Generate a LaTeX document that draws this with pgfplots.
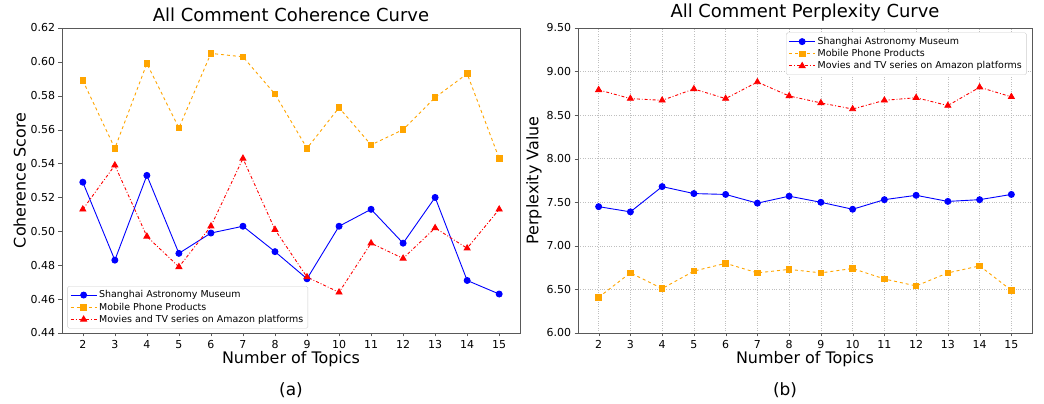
\documentclass[border=0pt]{standalone}
\usepackage{fontspec}
\setmainfont{DejaVu Sans}
\usepackage{pgfplots}
\pgfplotsset{compat=1.18}
\definecolor{mblue}{RGB}{0,0,255}
\definecolor{morange}{RGB}{255,165,0}
\definecolor{mred}{RGB}{255,0,0}
\begin{document}
\begin{tikzpicture}
\path[use as bounding box] (0bp,0bp) rectangle (1044bp,404bp);
\pgfplotsset{
  common/.style={
    scale only axis,
    width=458bp, height=305bp,
    xmin=1.35, xmax=15.65,
    xtick={2,3,...,15},
    tick align=outside,
    xtick pos=left, ytick pos=left,
    major tick length=3.5bp,
    axis line style={black!65},
    tick style={black!65},
    tick label style={font=\fontsize{11}{13}\selectfont},
    label style={font=\fontsize{16}{18}\selectfont},
    title style={font=\fontsize{18}{21}\selectfont, yshift=-3bp},
    /pgf/number format/assume math mode=true,
    yticklabel style={/pgf/number format/fixed, /pgf/number format/fixed zerofill, /pgf/number format/precision=2},
    xlabel={Number of Topics},
    xlabel style={yshift=4bp},
    ylabel style={yshift=-2bp},
    legend cell align=left,
    legend style={font=\fontsize{9.5}{11.5}\selectfont, draw=black!20, rounded corners=1.5bp, inner sep=2.5bp, row sep=-0.5bp},
    legend image code/.code={\draw[mark=none] (0bp,0bp) -- (26bp,0bp); \draw[solid] plot coordinates {(13bp,0bp)};},
    every axis plot/.append style={line width=0.9bp},
  }
}
\begin{axis}[common, at={(62bp,71bp)}, anchor=south west,
  ymin=0.44, ymax=0.62, ytick={0.44,0.46,...,0.62},
  ylabel={Coherence Score},
  title={All Comment Coherence Curve},
  legend style={at={(0.012,0.015)}, anchor=south west}]
\addplot[color=mblue, solid, mark=*, mark size=3bp] coordinates {
(2,0.529)(3,0.483)(4,0.533)(5,0.487)(6,0.499)(7,0.503)(8,0.488)(9,0.472)(10,0.503)(11,0.513)(12,0.493)(13,0.520)(14,0.471)(15,0.463)};
\addlegendentry{Shanghai Astronomy Museum}
\addplot[color=morange, dashed, mark=square*, mark size=2.8bp, mark options={solid}] coordinates {
(2,0.589)(3,0.549)(4,0.599)(5,0.561)(6,0.605)(7,0.603)(8,0.581)(9,0.549)(10,0.573)(11,0.551)(12,0.560)(13,0.579)(14,0.593)(15,0.543)};
\addlegendentry{Mobile Phone Products}
\addplot[color=mred, dash dot, mark=triangle*, mark size=3.4bp, mark options={solid}] coordinates {
(2,0.513)(3,0.539)(4,0.497)(5,0.479)(6,0.503)(7,0.543)(8,0.501)(9,0.473)(10,0.464)(11,0.493)(12,0.484)(13,0.502)(14,0.490)(15,0.513)};
\addlegendentry{Movies and TV series on Amazon platforms}
\end{axis}
\begin{axis}[common, at={(578bp,71bp)}, anchor=south west, width=454bp,
  ymin=6, ymax=9.5, ytick={6,6.5,...,9.5},
  ylabel={Perplexity Value},
  title={All Comment Perplexity Curve},
  grid=major, major grid style={black!25, dotted, line width=0.6bp},
  legend style={at={(0.988,0.985)}, anchor=north east}]
\addplot[color=mblue, solid, mark=*, mark size=3bp] coordinates {
(2,7.45)(3,7.39)(4,7.68)(5,7.60)(6,7.59)(7,7.49)(8,7.57)(9,7.50)(10,7.42)(11,7.53)(12,7.58)(13,7.51)(14,7.53)(15,7.59)};
\addlegendentry{Shanghai Astronomy Museum}
\addplot[color=morange, dashed, mark=square*, mark size=2.8bp, mark options={solid}] coordinates {
(2,6.41)(3,6.69)(4,6.51)(5,6.71)(6,6.80)(7,6.69)(8,6.73)(9,6.69)(10,6.74)(11,6.62)(12,6.54)(13,6.69)(14,6.77)(15,6.49)};
\addlegendentry{Mobile Phone Products}
\addplot[color=mred, dash dot, mark=triangle*, mark size=3.4bp, mark options={solid}] coordinates {
(2,8.79)(3,8.69)(4,8.67)(5,8.80)(6,8.69)(7,8.88)(8,8.72)(9,8.64)(10,8.57)(11,8.67)(12,8.70)(13,8.61)(14,8.82)(15,8.71)};
\addlegendentry{Movies and TV series on Amazon platforms}
\end{axis}
\node[font=\fontsize{17}{20}\selectfont] at (291bp,14bp) {(a)};
\node[font=\fontsize{17}{20}\selectfont] at (785bp,14bp) {(b)};
\end{tikzpicture}
\end{document}
